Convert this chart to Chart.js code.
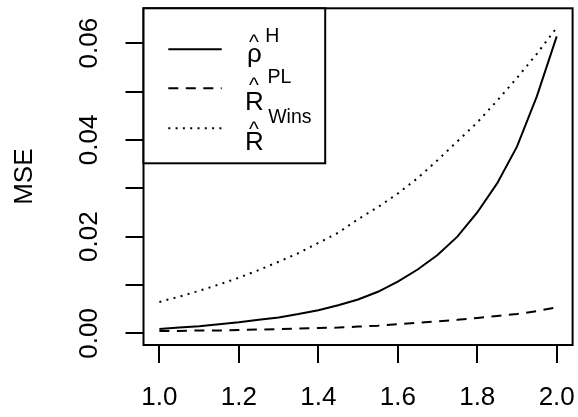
<!DOCTYPE html>
<html>
<head>
<meta charset="utf-8">
<script src="https://cdn.jsdelivr.net/npm/chart.js@4/dist/chart.umd.min.js"></script>
<style>
  html, body { margin: 0; padding: 0; background: #fff; }
  #wrap { width: 578px; height: 417px; }
</style>
</head>
<body>
<div id="wrap"><canvas id="c" width="578" height="417"></canvas></div>
<script>
// Parameter grid (x axis) and MSE of the three estimators
const xValues = [1.00, 1.05, 1.10, 1.15, 1.20, 1.25, 1.30, 1.35, 1.40, 1.45, 1.50,
                 1.55, 1.60, 1.65, 1.70, 1.75, 1.80, 1.85, 1.90, 1.95, 2.00];
const mseRhoH = [0.0009, 0.0012, 0.0015, 0.0019, 0.0023, 0.0028, 0.0033, 0.0040, 0.0048, 0.0058, 0.0070,
                 0.0086, 0.0107, 0.0132, 0.0162, 0.0200, 0.0250, 0.0310, 0.0386, 0.0490, 0.0614];
const mseRPL  = [0.0005, 0.0005, 0.0006, 0.0006, 0.0007, 0.0008, 0.0009, 0.0010, 0.0011, 0.0012, 0.0014,
                 0.0016, 0.0019, 0.0022, 0.0025, 0.0028, 0.0032, 0.0036, 0.0040, 0.0046, 0.0054];
const mseRWins = [0.0065, 0.0076, 0.0088, 0.0101, 0.0115, 0.0131, 0.0148, 0.0166, 0.0187, 0.0208, 0.0236,
                  0.0261, 0.0289, 0.0321, 0.0358, 0.0397, 0.0436, 0.0481, 0.0528, 0.0578, 0.0632];

const xTickValues = [1.0, 1.2, 1.4, 1.6, 1.8, 2.0];
const xTickLabels = ['1.0', '1.2', '1.4', '1.6', '1.8', '2.0'];
const yTickValues = [0.00, 0.01, 0.02, 0.03, 0.04, 0.05, 0.06];
const yTickLabels = ['0.00', '', '0.02', '', '0.04', '', '0.06'];

const legendBase = ['\u03C1', 'R', 'R'];
const legendSup = ['H', 'PL', 'Wins'];
const yTitle = 'MSE';

const FONT = "'Liberation Sans', Arial, Helvetica, sans-serif";
const INK = '#000';

function pairs(ys) { return xValues.map((x, i) => ({ x: x, y: ys[i] })); }

function noAutoPadding(s) {
  s.paddingTop = 0; s.paddingBottom = 0; s.paddingLeft = 0; s.paddingRight = 0;
}

// Box around the plotting region
const boxPlugin = {
  id: 'plotBox',
  afterDraw(chart) {
    const a = chart.chartArea, ctx = chart.ctx;
    ctx.save();
    ctx.strokeStyle = INK;
    ctx.lineWidth = 2;
    ctx.strokeRect(a.left, a.top, a.right - a.left, a.bottom - a.top);
    ctx.restore();
  }
};

// Legend in the top-left corner with hatted symbols and superscripts
const mathLegend = {
  id: 'mathLegend',
  afterDraw(chart) {
    const a = chart.chartArea, ctx = chart.ctx;
    const x0 = a.left, y0 = a.top, w = 181.7, h = 155;
    ctx.save();
    ctx.fillStyle = '#fff';
    ctx.fillRect(x0, y0, w, h);
    ctx.strokeStyle = INK;
    ctx.lineWidth = 2;
    ctx.strokeRect(x0, y0, w, h);

    const rowY = [41, 80, 120];
    const baseDy = [12.7, 21.5, 21.7];
    const hatDy = [-0.8, 3.4, 7.2];
    const supDy = [-7.6, -5.0, -5.3];
    const symX = x0 + 111;
    const supX = [x0 + 121.7, x0 + 124, x0 + 124.7];
    chart.data.datasets.forEach((ds, i) => {
      const y = y0 + rowY[i];
      ctx.save();
      ctx.strokeStyle = ds.borderColor;
      ctx.lineWidth = ds.borderWidth;
      ctx.setLineDash(ds.borderDash || []);
      ctx.lineCap = 'butt';
      ctx.beginPath();
      ctx.moveTo(x0 + 24.8, y);
      ctx.lineTo(x0 + 78.2, y);
      ctx.stroke();
      ctx.restore();

      ctx.fillStyle = INK;
      ctx.textAlign = 'center';
      ctx.textBaseline = 'alphabetic';
      ctx.font = '26px ' + FONT;
      ctx.fillText(legendBase[i], symX, y + baseDy[i]);
      ctx.font = '21px ' + FONT;
      ctx.fillText('^', symX - 0.5, y + hatDy[i]);
      ctx.font = '19.5px ' + FONT;
      ctx.textAlign = 'left';
      ctx.fillText(legendSup[i], supX[i], y + supDy[i]);
    });
    ctx.restore();
  }
};

new Chart(document.getElementById('c'), {
  type: 'line',
  data: {
    datasets: [
      { data: pairs(mseRhoH), borderColor: INK, borderWidth: 2, borderDash: [], pointRadius: 0, tension: 0 },
      { data: pairs(mseRPL), borderColor: INK, borderWidth: 2, borderDash: [10, 7.5], pointRadius: 0, tension: 0 },
      { data: pairs(mseRWins), borderColor: INK, borderWidth: 2, borderDash: [2, 5.3], pointRadius: 0, tension: 0 }
    ]
  },
  options: {
    responsive: false,
    animation: false,
    devicePixelRatio: 1,
    layout: { padding: { left: 0, right: 5.4, top: 8.3, bottom: 0 } },
    plugins: { legend: { display: false }, tooltip: { enabled: false } },
    scales: {
      x: {
        type: 'linear',
        min: 0.96, max: 2.04,
        afterBuildTicks(s) { s.ticks = xTickValues.map(v => ({ value: v })); },
        afterFit(s) { s.height = 72; noAutoPadding(s); },
        ticks: {
          autoSkip: false, maxRotation: 0, minRotation: 0,
          padding: 19,
          color: INK,
          font: { family: FONT, size: 26 },
          callback: (v) => { const i = xTickValues.indexOf(v); return i >= 0 ? xTickLabels[i] : ''; }
        },
        grid: { drawOnChartArea: false, drawTicks: true, tickLength: 18, color: INK, lineWidth: 2 },
        border: { display: false }
      },
      y: {
        type: 'linear',
        min: -0.0024, max: 0.0672,
        afterBuildTicks(s) { s.ticks = yTickValues.map(v => ({ value: v })); },
        afterFit(s) { s.width = 143.5; noAutoPadding(s); },
        ticks: {
          autoSkip: false, minRotation: 90, maxRotation: 90,
          crossAlign: 'center',
          padding: 10.2,
          color: INK,
          font: { family: FONT, size: 26 },
          callback: (v) => { const i = yTickValues.findIndex(t => Math.abs(t - v) < 1e-9); return i >= 0 ? yTickLabels[i] : ''; }
        },
        grid: { drawOnChartArea: false, drawTicks: true, tickLength: 18, color: INK, lineWidth: 2 },
        border: { display: false },
        title: {
          display: true, text: yTitle, color: INK,
          font: { family: FONT, size: 26 },
          padding: { top: 9.4, bottom: 0 }
        }
      }
    }
  },
  plugins: [boxPlugin, mathLegend]
});
</script>
</body>
</html>
